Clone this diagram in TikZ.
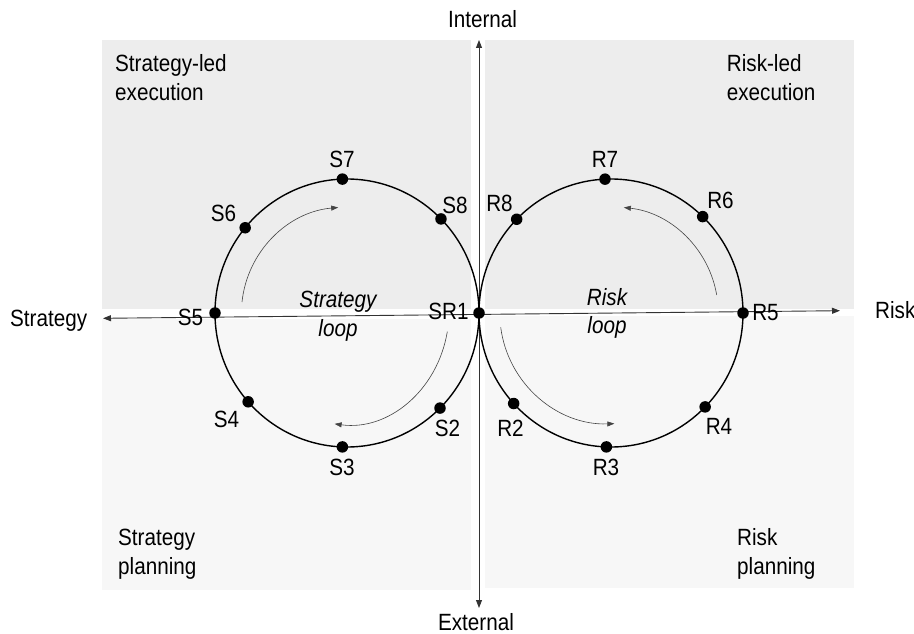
\documentclass[tikz,border=0pt]{standalone}
\usepackage{fontspec}
\setmainfont{Liberation Sans}[FakeStretch=0.88]
\usetikzlibrary{arrows.meta,calc}
\definecolor{quadtop}{HTML}{EDEDED}
\definecolor{quadbot}{HTML}{F7F7F7}
\definecolor{axisgray}{HTML}{333333}
\definecolor{flowgray}{HTML}{444444}
\begin{document}
\begin{tikzpicture}[x=1pt,y=-1pt,
  txt/.style={inner sep=0pt, font=\fontsize{23.5}{28.5}\selectfont},
  itxt/.style={txt, font=\fontsize{23.5}{28.5}\selectfont\itshape, align=center},
  corner/.style={txt, align=left},
  dot/.style={circle, fill=black, inner sep=0pt, minimum size=11.5pt},
  loopline/.style={line width=1.4pt, black},
  axis/.style={line width=0.9pt, axisgray, {Triangle[length=8pt,width=6pt]}-{Triangle[length=8pt,width=6pt]}},
  flow/.style={line width=0.6pt, flowgray, -{Triangle[length=7pt,width=5pt]}}
]
\useasboundingbox (0,0) rectangle (914,634);
% quadrants
\fill[quadtop] (102,40) rectangle (471,309);
\fill[quadtop] (485,40) rectangle (854,309);
\fill[quadbot] (102,319) rectangle (471,590);
\fill[quadbot] (485,316) rectangle (854,588);
% corner texts (base = last line)
\node[corner, anchor=base west] (tl) at (115,100.4) {Strategy-led\\execution};
\node[corner, anchor=base west] (tr) at (726.7,100.4) {Risk-led\\execution};
\node[corner, anchor=base west] (bl) at (118,574) {Strategy\\planning};
\node[corner, anchor=base west] (br) at (737,574) {Risk\\planning};
% axes
\coordinate (hl) at (103,318.3);
\coordinate (hr) at (840,310.7);
\coordinate (vt) at (479,40);
\coordinate (vb) at (479,608);
\draw[axis] (hl) -- (hr);
\draw[axis] (vb) -- (vt);
\node[txt, anchor=base west] (strat) at (10,326) {Strategy};
\node[txt, anchor=base west] (risk) at (875,318.3) {Risk};
\node[txt, anchor=base] (int) at (482.5,28) {Internal};
\node[txt, anchor=base] (ext) at (476,630) {External};
% loops
\coordinate (Lc) at (347,313);
\coordinate (Rc) at (611,313);
\draw[loopline] (Lc) ellipse [x radius=132pt, y radius=134pt];
\draw[loopline] (Rc) ellipse [x radius=132pt, y radius=134pt];
% dots
\foreach \n/\a in {S2/-45.2, S3/268, S4/221.5, S5/180, S6/140.5, S7/92, S8/44.6}
  \node[dot] (\n) at ({347+132*cos(\a)},{313-134*sin(\a)}) {};
\foreach \n/\a in {R2/222.5, R3/268, R4/-44.5, R5/0, R6/46, R7/92.6, R8/135.6}
  \node[dot] (\n) at ({611+132*cos(\a)},{313-134*sin(\a)}) {};
\node[dot] (SR1) at (479,313) {};
% dot labels
\node[txt] (lS2) at (447.5,428.5) {S2};
\node[txt] (lS3) at (342,467) {S3};
\node[txt] (lS4) at (226.5,419) {S4};
\node[txt] (lS5) at (190.5,317) {S5};
\node[txt] (lS6) at (223.5,213) {S6};
\node[txt] (lS7) at (342,159) {S7};
\node[txt] (lS8) at (455,205) {S8};
\node[txt] (lSR1) at (448.5,311.5) {SR1};
\node[txt] (lR2) at (510.5,428.5) {R2};
\node[txt] (lR3) at (606,467) {R3};
\node[txt] (lR4) at (719,426.5) {R4};
\node[txt] (lR5) at (765.5,313) {R5};
\node[txt] (lR6) at (720.5,200) {R6};
\node[txt] (lR7) at (605,159) {R7};
\node[txt] (lR8) at (499.5,203.5) {R8};
% loop names (base = last line)
\node[itxt, anchor=base] (sloop) at (338,336) {Strategy\\loop};
\node[itxt, anchor=base] (rloop) at (607,333.5) {Risk\\loop};
% flow arrows
\coordinate (f1) at (242,302);
\coordinate (f2) at (447.3,331.7);
\coordinate (f3) at (716.7,295);
\coordinate (f4) at (500.7,327.3);
\draw[flow] (f1) arc[start angle=174, end angle=95, radius=106pt];
\draw[flow] (f2) arc[start angle=-10.6, end angle=-97, x radius=102pt, y radius=114pt];
\draw[flow] (f3) arc[start angle=9.7, end angle=83.7, radius=106pt];
\draw[flow] (f4) arc[start angle=187.4, end angle=272, radius=110.7pt];
\end{tikzpicture}
\end{document}
